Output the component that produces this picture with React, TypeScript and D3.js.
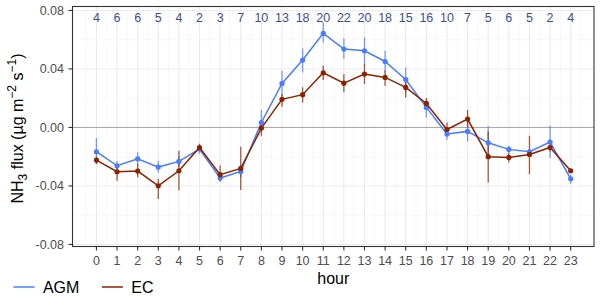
import React from "react"
import * as d3 from "d3"

// ---------- Data ----------
const hours = d3.range(0, 24)
const counts = [4, 6, 6, 5, 4, 2, 3, 7, 10, 13, 18, 20, 22, 20, 18, 15, 16, 10, 7, 5, 6, 5, 2, 4]

const agmMean = [-0.0166, -0.0262, -0.0214, -0.0271, -0.0232, -0.0148, -0.0346, -0.0301, 0.0034, 0.0301, 0.0461, 0.0643, 0.0536, 0.0524, 0.0451, 0.0328, 0.0137, -0.0045, -0.0027, -0.0105, -0.0150, -0.0166, -0.0100, -0.0351]
const agmLo = [-0.0250, -0.0290, -0.0260, -0.0310, -0.0270, -0.0180, -0.0370, -0.0340, -0.0020, 0.0217, 0.0376, 0.0580, 0.0468, 0.0422, 0.0376, 0.0240, 0.0068, -0.0086, -0.0096, -0.0216, -0.0175, -0.0185, -0.0209, -0.0383]
const agmHi = [-0.0073, -0.0230, -0.0170, -0.0230, -0.0200, -0.0110, -0.0310, -0.0270, 0.0120, 0.0388, 0.0540, 0.0718, 0.0610, 0.0615, 0.0524, 0.0410, 0.0183, 0.0000, 0.0027, 0.0010, -0.0125, -0.0150, 0.0011, -0.0323]

const ecMean = [-0.0223, -0.0303, -0.0298, -0.0399, -0.0296, -0.0137, -0.0323, -0.0280, -0.0004, 0.0192, 0.0224, 0.0374, 0.0303, 0.0365, 0.0342, 0.0274, 0.0164, -0.0014, 0.0057, -0.0200, -0.0205, -0.0185, -0.0137, -0.0296]
const ecLo = [-0.0250, -0.0365, -0.0340, -0.0490, -0.0430, -0.0160, -0.0370, -0.0428, -0.0057, 0.0142, 0.0170, 0.0324, 0.0240, 0.0297, 0.0285, 0.0205, 0.0137, -0.0057, 0.0000, -0.0376, -0.0240, -0.0319, -0.0165, -0.0310]
const ecHi = [-0.0200, -0.0270, -0.0250, -0.0353, -0.0160, -0.0115, -0.0260, -0.0132, 0.0046, 0.0228, 0.0275, 0.0422, 0.0365, 0.0433, 0.0388, 0.0331, 0.0201, 0.0034, 0.0119, -0.0027, -0.0175, -0.0057, -0.0115, -0.0280]

const yTicks = [-0.08, -0.04, 0, 0.04, 0.08]
const yMinor = [-0.06, -0.02, 0.02, 0.06]

const series = [
    { name: "AGM", color: "#4a7cff", mean: agmMean, lo: agmLo, hi: agmHi },
    { name: "EC", color: "#8b2300", mean: ecMean, lo: ecLo, hi: ecHi },
]

// ---------- Layout ----------
const W = 600
const H = 299
const panel = { left: 72.5, right: 594, top: 6.5, bottom: 246.5 }
const font = "'Liberation Sans', Arial, Helvetica, sans-serif"

const App: React.FC = () => {
    const x = d3.scaleLinear().domain([-1.16, 24.13]).range([panel.left, panel.right])
    const y = d3.scaleLinear().domain([-0.0814, 0.0827]).range([panel.bottom, panel.top])
    const line = d3.line<number>().x((_, i) => x(hours[i])).y(d => y(d))
    const xMinor = d3.range(-0.5, 24, 1)

    return (
        <svg width={W} height={H} style={{ position: "absolute", left: 0, top: 0 }} fontFamily={font}>
            <rect x={0} y={0} width={W} height={H} fill="white" />
            {/* grid */}
            {xMinor.map(h => (
                <line key={"xm" + h} x1={x(h)} x2={x(h)} y1={panel.top} y2={panel.bottom} stroke="#f2f2f2" strokeWidth={0.6} />
            ))}
            {yMinor.map(v => (
                <line key={"ym" + v} x1={panel.left} x2={panel.right} y1={y(v)} y2={y(v)} stroke="#f2f2f2" strokeWidth={0.6} />
            ))}
            {hours.map(h => (
                <line key={"xg" + h} x1={x(h)} x2={x(h)} y1={panel.top} y2={panel.bottom} stroke="#ebebeb" strokeWidth={1.1} />
            ))}
            {yTicks.map(v => (
                <line key={"yg" + v} x1={panel.left} x2={panel.right} y1={y(v)} y2={y(v)} stroke="#ebebeb" strokeWidth={1.1} />
            ))}
            {/* zero line */}
            <line x1={panel.left} x2={panel.right} y1={y(0)} y2={y(0)} stroke="#a6a6a6" strokeWidth={1} />

            {/* error bars */}
            {series.map(s => (
                <g key={"eb" + s.name} stroke={s.color} strokeWidth={1.3} opacity={0.75}>
                    {hours.map(h => (
                        <line key={h} x1={x(h)} x2={x(h)} y1={y(s.lo[h])} y2={y(s.hi[h])} />
                    ))}
                </g>
            ))}
            {/* lines and points */}
            {series.map(s => (
                <g key={"ln" + s.name}>
                    <path d={line(s.mean) ?? ""} fill="none" stroke={s.color} strokeWidth={1.5} />
                    {hours.map(h => (
                        <circle key={h} cx={x(h)} cy={y(s.mean[h])} r={2.6} fill={s.color} />
                    ))}
                </g>
            ))}

            {/* counts */}
            {hours.map(h => (
                <text key={"n" + h} x={x(h)} y={21.7} textAnchor="middle" fontSize={12.5} fill="#3b4f8f">{counts[h]}</text>
            ))}

            {/* panel border */}
            <rect x={panel.left} y={panel.top} width={panel.right - panel.left} height={panel.bottom - panel.top} fill="none" stroke="#333333" strokeWidth={1.1} />

            {/* y axis */}
            {yTicks.map(v => (
                <g key={"yt" + v}>
                    <line x1={panel.left - 4} x2={panel.left} y1={y(v)} y2={y(v)} stroke="#333333" strokeWidth={1.1} />
                    <text x={panel.left - 8.5} y={y(v)} dy="0.35em" textAnchor="end" fontSize={12.5} fill="#4d4d4d">{v.toFixed(2)}</text>
                </g>
            ))}
            {/* x axis */}
            {hours.map(h => (
                <g key={"xt" + h}>
                    <line x1={x(h)} x2={x(h)} y1={panel.bottom} y2={panel.bottom + 4} stroke="#333333" strokeWidth={1.1} />
                    <text x={x(h)} y={265} textAnchor="middle" fontSize={12.5} fill="#4d4d4d">{h}</text>
                </g>
            ))}

            {/* axis titles */}
            <text x={(panel.left + panel.right) / 2} y={284} textAnchor="middle" fontSize={16} fill="black">hour</text>
            <text transform={`translate(23,${(panel.top + panel.bottom) / 2 + 2}) rotate(-90)`} textAnchor="middle" fontSize={16} fill="black">
                NH<tspan fontSize={12} dy={4}>3</tspan>
                <tspan dy={-4}> flux (µg m</tspan>
                <tspan fontSize={12} dy={-7}>−2</tspan>
                <tspan dy={7}> s</tspan>
                <tspan fontSize={12} dy={-7}>−1</tspan>
                <tspan dy={7}>)</tspan>
            </text>

            {/* legend */}
            {series.map((s, i) => {
                const lx = 13.5 + i * 88.4
                return (
                    <g key={"lg" + s.name}>
                        <line x1={lx} x2={lx + 21} y1={287} y2={287} stroke={s.color} strokeWidth={1.5} />
                        <text x={lx + 29.4} y={293.3} fontSize={16} fill="black">{s.name}</text>
                    </g>
                )
            })}
        </svg>
    )
}

export default App
